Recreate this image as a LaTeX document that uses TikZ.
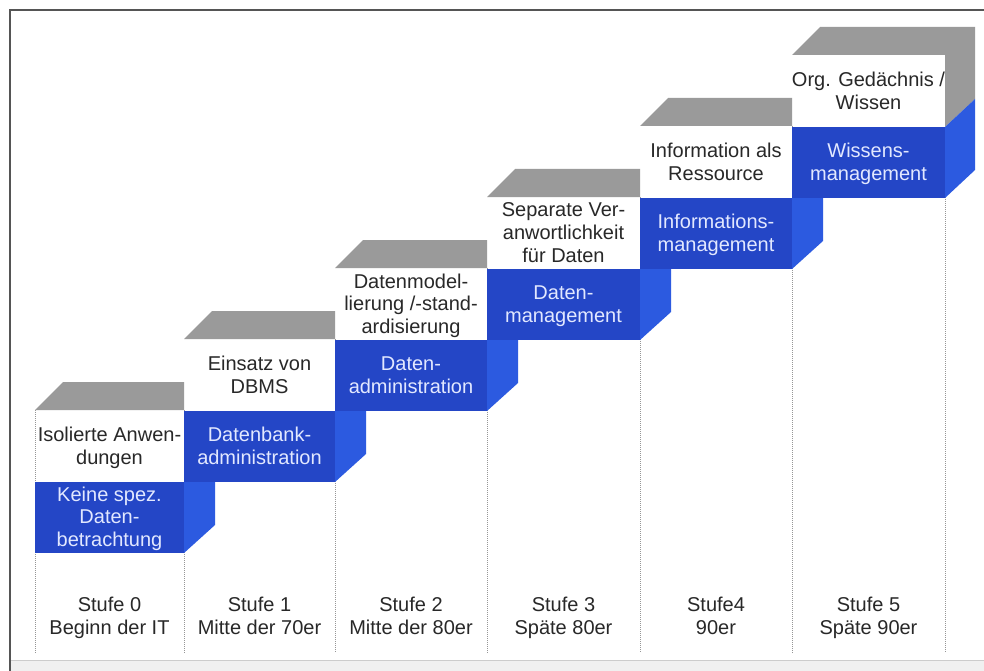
\documentclass[tikz,border=0pt]{standalone}
\usepackage{fontspec}
\setmainfont{Liberation Sans}
\definecolor{frontblue}{RGB}{36,70,198}
\definecolor{sideblue}{RGB}{44,90,224}
\definecolor{stepgray}{RGB}{154,154,154}
\definecolor{txtdark}{RGB}{40,40,40}
\definecolor{txtlight}{RGB}{226,232,255}
\definecolor{bandgray}{RGB}{240,240,240}
\definecolor{framegray}{RGB}{85,85,85}
\definecolor{dotgray}{RGB}{150,150,150}
\begin{document}
\begin{tikzpicture}[x=1pt,y=-1pt,
  lbl/.style={align=center, font=\fontsize{20}{22.8}\selectfont, inner sep=0pt,
    yshift=-3pt, execute at begin node=\strut, execute at end node=\strut},
  darklbl/.style={lbl, text=txtdark},
  lightlbl/.style={lbl, text=txtlight},
  divider/.style={dotgray, line width=1pt, dash pattern=on 1pt off 1pt},
  grayface/.style={fill=stepgray},
  frontface/.style={fill=frontblue},
  sideface/.style={fill=sideblue}]
\useasboundingbox (0,0) rectangle (984,671);
\fill[white] (0,0) rectangle (984,671);
% frame and bottom band
\fill[bandgray] (10,660) rectangle (984,671);
\draw[black!20, line width=0.8pt] (10,660) -- (984,660);
\draw[framegray, line width=1.6pt] (10,671) -- (10,10) -- (984,10);
% dotted column dividers
\foreach \x/\y in {35/410,184/410,335/339,487/268,640/197,792/126,945/55}{
  \draw[divider] (\x,\y) -- (\x,653);
}
% steps 0..4
\foreach \i/\L/\R in {0/35/184,1/184/335,2/335/487,3/487/640,4/640/792}{
  \pgfmathsetmacro{\G}{382-71*\i}
  \pgfmathsetmacro{\W}{\G+28}
  \pgfmathsetmacro{\T}{\G+100}
  \pgfmathsetmacro{\B}{\G+171}
  \path[grayface] (\L,\W) -- (\L+28,\G) -- (\R,\G) -- (\R,\W) -- cycle;
  \path[frontface] (\L,\T) rectangle (\R,\B);
  \path[sideface] (\R,\T) -- (\R+31,\T) -- (\R+31,\B-28) -- (\R,\B) -- cycle;
}
% step 5
\path[grayface] (792,55) -- (820,27) -- (975,27) -- (975,99) -- (945,127) -- (945,55) -- cycle;
\path[frontface] (792,127) rectangle (945,198);
\path[sideface] (945,127) -- (975,99) -- (975,170) -- (945,198) -- cycle;
% texts
\node[darklbl] (w0) at (109.5,446) {Isolierte Anwen-\\dungen};
\node[lightlbl] (b0) at (109.5,517) {Keine spez.\\Daten-\\betrachtung};
\node[darklbl] (w1) at (259.5,375) {Einsatz von\\DBMS};
\node[lightlbl] (b1) at (259.5,446.5) {Datenbank-\\administration};
\node[darklbl] (w2) at (411,304) {Datenmodel-\\lierung /-stand-\\ardisierung};
\node[lightlbl] (b2) at (411,375.5) {Daten-\\administration};
\node[darklbl] (w3) at (563.5,233) {Separate Ver-\\anwortlichkeit\\für Daten};
\node[lightlbl] (b3) at (563.5,304.5) {Daten-\\management};
\node[darklbl] (w4) at (716,162) {Information als\\Ressource};
\node[lightlbl] (b4) at (716,233.5) {Informations-\\management};
\node[darklbl] (w5) at (868.5,91) {Org. Gedächnis /\\Wissen};
\node[lightlbl] (b5) at (868.5,162.5) {Wissens-\\management};
\node[darklbl] (s0) at (109.5,616) {Stufe 0\\Beginn der IT};
\node[darklbl] (s1) at (259.5,616) {Stufe 1\\Mitte der 70er};
\node[darklbl] (s2) at (411,616) {Stufe 2\\Mitte der 80er};
\node[darklbl] (s3) at (563.5,616) {Stufe 3\\Späte 80er};
\node[darklbl] (s4) at (716,616) {Stufe4\\90er};
\node[darklbl] (s5) at (868.5,616) {Stufe 5\\Späte 90er};
\end{tikzpicture}
\end{document}
